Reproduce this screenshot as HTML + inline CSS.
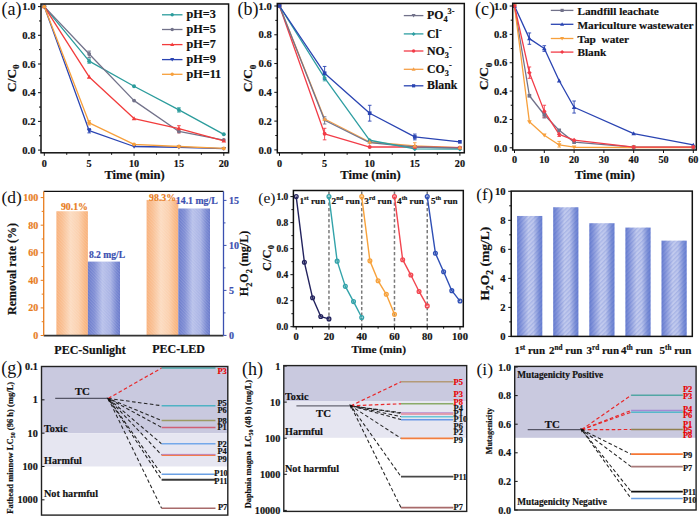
<!DOCTYPE html><html><head><meta charset="utf-8"><style>html,body{margin:0;padding:0;background:#fff;}svg{display:block;}text{font-family:"Liberation Serif",serif;}</style></head><body>
<svg width="700" height="518" viewBox="0 0 700 518">
<rect width="700" height="518" fill="#fff"/>
<defs>
<linearGradient id="gor" x1="0" x2="1" y1="0" y2="0">
<stop offset="0" stop-color="#f8b07a"/><stop offset="0.2" stop-color="#f9c094"/><stop offset="0.45" stop-color="#fcdbc0"/><stop offset="0.7" stop-color="#fbd0ae"/><stop offset="0.9" stop-color="#f9b884"/><stop offset="1" stop-color="#f8b07a"/></linearGradient>
<linearGradient id="gbl" x1="0" x2="1" y1="0" y2="0">
<stop offset="0" stop-color="#6a7acb"/><stop offset="0.2" stop-color="#7f8dd4"/><stop offset="0.45" stop-color="#b7c0ea"/><stop offset="0.7" stop-color="#a8b2e4"/><stop offset="0.9" stop-color="#7585d0"/><stop offset="1" stop-color="#6a7acb"/></linearGradient>
<linearGradient id="gbf" x1="0" x2="1" y1="0" y2="0">
<stop offset="0" stop-color="#6a7fd0"/><stop offset="0.15" stop-color="#8696da"/><stop offset="0.45" stop-color="#c3cbee"/><stop offset="0.65" stop-color="#bcc5ec"/><stop offset="0.88" stop-color="#7d90d6"/><stop offset="1" stop-color="#6a80d2"/></linearGradient>
<pattern id="hatch" width="2.2" height="2.2" patternUnits="userSpaceOnUse" patternTransform="rotate(-45)">
<rect width="1" height="2.2" fill="#ffffff" fill-opacity="0.12"/></pattern>
<pattern id="hatchf" width="3.2" height="3.2" patternUnits="userSpaceOnUse" patternTransform="rotate(45)">
<rect width="1.3" height="3.2" fill="#3050c0" fill-opacity="0.16"/></pattern>
</defs>
<polyline points="44.3,6.6 89.17,61.13 134.05,86.24 178.93,109.92 223.8,134.31" fill="none" stroke="#2b9c9c" stroke-width="1.3" stroke-linejoin="round" />
<polyline points="44.3,6.6 89.17,53.95 134.05,100.59 178.93,131.44 223.8,140.06" fill="none" stroke="#72728a" stroke-width="1.3" stroke-linejoin="round" />
<polyline points="44.3,6.6 89.17,76.91 134.05,118.53 178.93,128.57 223.8,140.77" fill="none" stroke="#f23c3c" stroke-width="1.3" stroke-linejoin="round" />
<polyline points="44.3,6.6 89.17,130.73 134.05,146.51 178.93,147.23 223.8,148.66" fill="none" stroke="#2a44b2" stroke-width="1.3" stroke-linejoin="round" />
<polyline points="44.3,6.6 89.17,122.83 134.05,144.36 178.93,146.51 223.8,148.38" fill="none" stroke="#f7a03c" stroke-width="1.3" stroke-linejoin="round" />
<line x1="89.17" y1="51.09" x2="89.17" y2="57.54" stroke="#72728a" stroke-width="0.9" />
<line x1="87.38" y1="51.09" x2="90.97" y2="51.09" stroke="#72728a" stroke-width="0.9" />
<line x1="87.38" y1="57.54" x2="90.97" y2="57.54" stroke="#72728a" stroke-width="0.9" />
<line x1="89.17" y1="58.98" x2="89.17" y2="63.28" stroke="#2b9c9c" stroke-width="0.9" />
<line x1="87.38" y1="58.98" x2="90.97" y2="58.98" stroke="#2b9c9c" stroke-width="0.9" />
<line x1="87.38" y1="63.28" x2="90.97" y2="63.28" stroke="#2b9c9c" stroke-width="0.9" />
<line x1="178.93" y1="107.77" x2="178.93" y2="112.07" stroke="#2b9c9c" stroke-width="0.9" />
<line x1="177.12" y1="107.77" x2="180.73" y2="107.77" stroke="#2b9c9c" stroke-width="0.9" />
<line x1="177.12" y1="112.07" x2="180.73" y2="112.07" stroke="#2b9c9c" stroke-width="0.9" />
<line x1="178.93" y1="125.7" x2="178.93" y2="132.88" stroke="#f23c3c" stroke-width="0.9" />
<line x1="177.12" y1="125.7" x2="180.73" y2="125.7" stroke="#f23c3c" stroke-width="0.9" />
<line x1="177.12" y1="132.88" x2="180.73" y2="132.88" stroke="#f23c3c" stroke-width="0.9" />
<line x1="89.17" y1="120.68" x2="89.17" y2="124.99" stroke="#f7a03c" stroke-width="0.9" />
<line x1="87.38" y1="120.68" x2="90.97" y2="120.68" stroke="#f7a03c" stroke-width="0.9" />
<line x1="87.38" y1="124.99" x2="90.97" y2="124.99" stroke="#f7a03c" stroke-width="0.9" />
<line x1="89.17" y1="128.57" x2="89.17" y2="132.88" stroke="#2a44b2" stroke-width="0.9" />
<line x1="87.38" y1="128.57" x2="90.97" y2="128.57" stroke="#2a44b2" stroke-width="0.9" />
<line x1="87.38" y1="132.88" x2="90.97" y2="132.88" stroke="#2a44b2" stroke-width="0.9" />
<circle cx="44.3" cy="6.6" r="1.95" fill="#2b9c9c"/>
<circle cx="89.17" cy="61.13" r="1.95" fill="#2b9c9c"/>
<circle cx="134.05" cy="86.24" r="1.95" fill="#2b9c9c"/>
<circle cx="178.93" cy="109.92" r="1.95" fill="#2b9c9c"/>
<circle cx="223.8" cy="134.31" r="1.95" fill="#2b9c9c"/>
<circle cx="44.3" cy="6.6" r="1.95" fill="#72728a"/>
<circle cx="89.17" cy="53.95" r="1.95" fill="#72728a"/>
<circle cx="134.05" cy="100.59" r="1.95" fill="#72728a"/>
<circle cx="178.93" cy="131.44" r="1.95" fill="#72728a"/>
<circle cx="223.8" cy="140.06" r="1.95" fill="#72728a"/>
<polygon points="44.3,4.3 46.6,8.32 42,8.32" fill="#f23c3c"/>
<polygon points="89.17,74.61 91.47,78.64 86.88,78.64" fill="#f23c3c"/>
<polygon points="134.05,116.23 136.35,120.25 131.75,120.25" fill="#f23c3c"/>
<polygon points="178.93,126.27 181.23,130.3 176.62,130.3" fill="#f23c3c"/>
<polygon points="223.8,138.47 226.1,142.5 221.5,142.5" fill="#f23c3c"/>
<polygon points="44.3,8.9 46.6,4.87 42,4.87" fill="#2a44b2"/>
<polygon points="89.17,133.03 91.47,129 86.88,129" fill="#2a44b2"/>
<polygon points="134.05,148.81 136.35,144.79 131.75,144.79" fill="#2a44b2"/>
<polygon points="178.93,149.53 181.23,145.5 176.62,145.5" fill="#2a44b2"/>
<polygon points="223.8,150.97 226.1,146.94 221.5,146.94" fill="#2a44b2"/>
<circle cx="44.3" cy="6.6" r="1.95" fill="#f7a03c"/>
<circle cx="89.17" cy="122.83" r="1.95" fill="#f7a03c"/>
<circle cx="134.05" cy="144.36" r="1.95" fill="#f7a03c"/>
<circle cx="178.93" cy="146.51" r="1.95" fill="#f7a03c"/>
<circle cx="223.8" cy="148.38" r="1.95" fill="#f7a03c"/>
<rect x="41" y="4" width="187.6" height="148.8" fill="none" stroke="#111" stroke-width="1.5" />
<line x1="38" y1="150.1" x2="41" y2="150.1" stroke="#111" stroke-width="1.0" />
<line x1="38" y1="121.4" x2="41" y2="121.4" stroke="#111" stroke-width="1.0" />
<line x1="38" y1="92.7" x2="41" y2="92.7" stroke="#111" stroke-width="1.0" />
<line x1="38" y1="64" x2="41" y2="64" stroke="#111" stroke-width="1.0" />
<line x1="38" y1="35.3" x2="41" y2="35.3" stroke="#111" stroke-width="1.0" />
<line x1="38" y1="6.6" x2="41" y2="6.6" stroke="#111" stroke-width="1.0" />
<line x1="39" y1="135.75" x2="41" y2="135.75" stroke="#111" stroke-width="1.0" />
<line x1="39" y1="107.05" x2="41" y2="107.05" stroke="#111" stroke-width="1.0" />
<line x1="39" y1="78.35" x2="41" y2="78.35" stroke="#111" stroke-width="1.0" />
<line x1="39" y1="49.65" x2="41" y2="49.65" stroke="#111" stroke-width="1.0" />
<line x1="39" y1="20.95" x2="41" y2="20.95" stroke="#111" stroke-width="1.0" />
<line x1="44.3" y1="152.8" x2="44.3" y2="155.8" stroke="#111" stroke-width="1.0" />
<line x1="89.17" y1="152.8" x2="89.17" y2="155.8" stroke="#111" stroke-width="1.0" />
<line x1="134.05" y1="152.8" x2="134.05" y2="155.8" stroke="#111" stroke-width="1.0" />
<line x1="178.93" y1="152.8" x2="178.93" y2="155.8" stroke="#111" stroke-width="1.0" />
<line x1="223.8" y1="152.8" x2="223.8" y2="155.8" stroke="#111" stroke-width="1.0" />
<line x1="66.74" y1="152.8" x2="66.74" y2="154.8" stroke="#111" stroke-width="1.0" />
<line x1="111.61" y1="152.8" x2="111.61" y2="154.8" stroke="#111" stroke-width="1.0" />
<line x1="156.49" y1="152.8" x2="156.49" y2="154.8" stroke="#111" stroke-width="1.0" />
<line x1="201.36" y1="152.8" x2="201.36" y2="154.8" stroke="#111" stroke-width="1.0" />
<text x="35.5" y="153.8" font-size="10.6" text-anchor="end" font-weight="bold" fill="#111" stroke="#111" stroke-width="0.18" >0.0</text>
<text x="35.5" y="125.1" font-size="10.6" text-anchor="end" font-weight="bold" fill="#111" stroke="#111" stroke-width="0.18" >0.2</text>
<text x="35.5" y="96.4" font-size="10.6" text-anchor="end" font-weight="bold" fill="#111" stroke="#111" stroke-width="0.18" >0.4</text>
<text x="35.5" y="67.7" font-size="10.6" text-anchor="end" font-weight="bold" fill="#111" stroke="#111" stroke-width="0.18" >0.6</text>
<text x="35.5" y="39" font-size="10.6" text-anchor="end" font-weight="bold" fill="#111" stroke="#111" stroke-width="0.18" >0.8</text>
<text x="35.5" y="10.3" font-size="10.6" text-anchor="end" font-weight="bold" fill="#111" stroke="#111" stroke-width="0.18" >1.0</text>
<text x="44.3" y="166.6" font-size="10.2" text-anchor="middle" font-weight="bold" fill="#111" stroke="#111" stroke-width="0.18" >0</text>
<text x="89.17" y="166.6" font-size="10.2" text-anchor="middle" font-weight="bold" fill="#111" stroke="#111" stroke-width="0.18" >5</text>
<text x="134.05" y="166.6" font-size="10.2" text-anchor="middle" font-weight="bold" fill="#111" stroke="#111" stroke-width="0.18" >10</text>
<text x="178.93" y="166.6" font-size="10.2" text-anchor="middle" font-weight="bold" fill="#111" stroke="#111" stroke-width="0.18" >15</text>
<text x="223.8" y="166.6" font-size="10.2" text-anchor="middle" font-weight="bold" fill="#111" stroke="#111" stroke-width="0.18" >20</text>
<text transform="translate(11.3,78.2) rotate(-90)" x="0" y="4.39" font-size="13.3" text-anchor="middle" font-weight="bold" fill="#111" stroke="#111" stroke-width="0.18">C/C<tspan font-size="68%" dy="3.6">0</tspan></text>
<text x="134.6" y="179.3" font-size="12.6" text-anchor="middle" font-weight="bold" fill="#111" stroke="#111" stroke-width="0.18" >Time (min)</text>
<text x="1.5" y="15" font-size="18" text-anchor="start" font-weight="normal" fill="#111" >(a)</text>
<line x1="162" y1="14.8" x2="182.5" y2="14.8" stroke="#2b9c9c" stroke-width="1.3" />
<circle cx="172.2" cy="14.8" r="1.7" fill="#2b9c9c"/>
<text x="186.5" y="18.4" font-size="12.2" text-anchor="start" font-weight="bold" fill="#111" stroke="#111" stroke-width="0.18" >pH=3</text>
<line x1="162" y1="29.5" x2="182.5" y2="29.5" stroke="#72728a" stroke-width="1.3" />
<circle cx="172.2" cy="29.5" r="1.7" fill="#72728a"/>
<text x="186.5" y="33.1" font-size="12.2" text-anchor="start" font-weight="bold" fill="#111" stroke="#111" stroke-width="0.18" >pH=5</text>
<line x1="162" y1="44.6" x2="182.5" y2="44.6" stroke="#f23c3c" stroke-width="1.3" />
<polygon points="172.2,42.6 174.2,46.1 170.2,46.1" fill="#f23c3c"/>
<text x="186.5" y="48.2" font-size="12.2" text-anchor="start" font-weight="bold" fill="#111" stroke="#111" stroke-width="0.18" >pH=7</text>
<line x1="162" y1="59.6" x2="182.5" y2="59.6" stroke="#2a44b2" stroke-width="1.3" />
<polygon points="172.2,61.6 174.2,58.1 170.2,58.1" fill="#2a44b2"/>
<text x="186.5" y="63.2" font-size="12.2" text-anchor="start" font-weight="bold" fill="#111" stroke="#111" stroke-width="0.18" >pH=9</text>
<line x1="162" y1="74.3" x2="182.5" y2="74.3" stroke="#f7a03c" stroke-width="1.3" />
<circle cx="172.2" cy="74.3" r="1.7" fill="#f7a03c"/>
<text x="186.5" y="77.9" font-size="12.2" text-anchor="start" font-weight="bold" fill="#111" stroke="#111" stroke-width="0.18" >pH=11</text>
<polyline points="279.5,6 324.6,118.96 369.7,141.99 414.8,145.87 459.9,147.6" fill="none" stroke="#f5a048" stroke-width="1.3" stroke-linejoin="round" />
<polyline points="279.5,6 324.6,133.78 369.7,147.02 414.8,147.02 459.9,147.74" fill="none" stroke="#f23c48" stroke-width="1.3" stroke-linejoin="round" />
<polyline points="279.5,6 324.6,120.26 369.7,142.71 414.8,147.02 459.9,148.17" fill="none" stroke="#72728a" stroke-width="1.3" stroke-linejoin="round" />
<polyline points="279.5,6 324.6,77.95 369.7,140.26 414.8,148.89 459.9,149.18" fill="none" stroke="#2e9ea2" stroke-width="1.3" stroke-linejoin="round" />
<polyline points="279.5,6 324.6,73.2 369.7,113.21 414.8,136.95 459.9,141.84" fill="none" stroke="#2a44b2" stroke-width="1.3" stroke-linejoin="round" />
<line x1="324.6" y1="66.44" x2="324.6" y2="79.39" stroke="#2a44b2" stroke-width="0.9" />
<line x1="322.8" y1="66.44" x2="326.4" y2="66.44" stroke="#2a44b2" stroke-width="0.9" />
<line x1="322.8" y1="79.39" x2="326.4" y2="79.39" stroke="#2a44b2" stroke-width="0.9" />
<line x1="369.7" y1="105.29" x2="369.7" y2="121.12" stroke="#2a44b2" stroke-width="0.9" />
<line x1="367.9" y1="105.29" x2="371.5" y2="105.29" stroke="#2a44b2" stroke-width="0.9" />
<line x1="367.9" y1="121.12" x2="371.5" y2="121.12" stroke="#2a44b2" stroke-width="0.9" />
<line x1="414.8" y1="134.07" x2="414.8" y2="139.83" stroke="#2a44b2" stroke-width="0.9" />
<line x1="413" y1="134.07" x2="416.6" y2="134.07" stroke="#2a44b2" stroke-width="0.9" />
<line x1="413" y1="139.83" x2="416.6" y2="139.83" stroke="#2a44b2" stroke-width="0.9" />
<line x1="324.6" y1="128.31" x2="324.6" y2="139.83" stroke="#f23c48" stroke-width="0.9" />
<line x1="322.8" y1="128.31" x2="326.4" y2="128.31" stroke="#f23c48" stroke-width="0.9" />
<line x1="322.8" y1="139.83" x2="326.4" y2="139.83" stroke="#f23c48" stroke-width="0.9" />
<line x1="324.6" y1="75.07" x2="324.6" y2="80.83" stroke="#2e9ea2" stroke-width="0.9" />
<line x1="322.8" y1="75.07" x2="326.4" y2="75.07" stroke="#2e9ea2" stroke-width="0.9" />
<line x1="322.8" y1="80.83" x2="326.4" y2="80.83" stroke="#2e9ea2" stroke-width="0.9" />
<line x1="324.6" y1="116.8" x2="324.6" y2="124" stroke="#72728a" stroke-width="0.9" />
<line x1="322.8" y1="116.8" x2="326.4" y2="116.8" stroke="#72728a" stroke-width="0.9" />
<line x1="322.8" y1="124" x2="326.4" y2="124" stroke="#72728a" stroke-width="0.9" />
<line x1="414.8" y1="142.71" x2="414.8" y2="148.46" stroke="#f5a048" stroke-width="0.9" />
<line x1="413" y1="142.71" x2="416.6" y2="142.71" stroke="#f5a048" stroke-width="0.9" />
<line x1="413" y1="148.46" x2="416.6" y2="148.46" stroke="#f5a048" stroke-width="0.9" />
<polygon points="279.5,8.3 281.8,4.28 277.2,4.28" fill="#72728a"/>
<polygon points="324.6,122.56 326.9,118.53 322.3,118.53" fill="#72728a"/>
<polygon points="369.7,145.01 372,140.98 367.4,140.98" fill="#72728a"/>
<polygon points="414.8,149.32 417.1,145.3 412.5,145.3" fill="#72728a"/>
<polygon points="459.9,150.47 462.2,146.45 457.6,146.45" fill="#72728a"/>
<polygon points="279.5,3.7 281.8,6 279.5,8.3 277.2,6" fill="#2e9ea2"/>
<polygon points="324.6,75.65 326.9,77.95 324.6,80.25 322.3,77.95" fill="#2e9ea2"/>
<polygon points="369.7,137.96 372,140.26 369.7,142.56 367.4,140.26" fill="#2e9ea2"/>
<polygon points="414.8,146.59 417.1,148.89 414.8,151.19 412.5,148.89" fill="#2e9ea2"/>
<polygon points="459.9,146.88 462.2,149.18 459.9,151.48 457.6,149.18" fill="#2e9ea2"/>
<circle cx="279.5" cy="6" r="1.95" fill="#f23c48"/>
<circle cx="324.6" cy="133.78" r="1.95" fill="#f23c48"/>
<circle cx="369.7" cy="147.02" r="1.95" fill="#f23c48"/>
<circle cx="414.8" cy="147.02" r="1.95" fill="#f23c48"/>
<circle cx="459.9" cy="147.74" r="1.95" fill="#f23c48"/>
<polygon points="279.5,3.7 281.8,7.72 277.2,7.72" fill="#f5a048"/>
<polygon points="324.6,116.66 326.9,120.69 322.3,120.69" fill="#f5a048"/>
<polygon points="369.7,139.69 372,143.71 367.4,143.71" fill="#f5a048"/>
<polygon points="414.8,143.57 417.1,147.6 412.5,147.6" fill="#f5a048"/>
<polygon points="459.9,145.3 462.2,149.32 457.6,149.32" fill="#f5a048"/>
<rect x="277.66" y="4.16" width="3.68" height="3.68" fill="#2a44b2"/>
<rect x="322.76" y="71.36" width="3.68" height="3.68" fill="#2a44b2"/>
<rect x="367.86" y="111.37" width="3.68" height="3.68" fill="#2a44b2"/>
<rect x="412.96" y="135.11" width="3.68" height="3.68" fill="#2a44b2"/>
<rect x="458.06" y="140" width="3.68" height="3.68" fill="#2a44b2"/>
<rect x="277.3" y="3.5" width="187" height="149.3" fill="none" stroke="#111" stroke-width="1.5" />
<line x1="274.3" y1="149.9" x2="277.3" y2="149.9" stroke="#111" stroke-width="1.0" />
<line x1="274.3" y1="121.12" x2="277.3" y2="121.12" stroke="#111" stroke-width="1.0" />
<line x1="274.3" y1="92.34" x2="277.3" y2="92.34" stroke="#111" stroke-width="1.0" />
<line x1="274.3" y1="63.56" x2="277.3" y2="63.56" stroke="#111" stroke-width="1.0" />
<line x1="274.3" y1="34.78" x2="277.3" y2="34.78" stroke="#111" stroke-width="1.0" />
<line x1="274.3" y1="6" x2="277.3" y2="6" stroke="#111" stroke-width="1.0" />
<line x1="275.3" y1="135.51" x2="277.3" y2="135.51" stroke="#111" stroke-width="1.0" />
<line x1="275.3" y1="106.73" x2="277.3" y2="106.73" stroke="#111" stroke-width="1.0" />
<line x1="275.3" y1="77.95" x2="277.3" y2="77.95" stroke="#111" stroke-width="1.0" />
<line x1="275.3" y1="49.17" x2="277.3" y2="49.17" stroke="#111" stroke-width="1.0" />
<line x1="275.3" y1="20.39" x2="277.3" y2="20.39" stroke="#111" stroke-width="1.0" />
<line x1="279.5" y1="152.8" x2="279.5" y2="155.8" stroke="#111" stroke-width="1.0" />
<line x1="324.6" y1="152.8" x2="324.6" y2="155.8" stroke="#111" stroke-width="1.0" />
<line x1="369.7" y1="152.8" x2="369.7" y2="155.8" stroke="#111" stroke-width="1.0" />
<line x1="414.8" y1="152.8" x2="414.8" y2="155.8" stroke="#111" stroke-width="1.0" />
<line x1="459.9" y1="152.8" x2="459.9" y2="155.8" stroke="#111" stroke-width="1.0" />
<line x1="302.05" y1="152.8" x2="302.05" y2="154.8" stroke="#111" stroke-width="1.0" />
<line x1="347.15" y1="152.8" x2="347.15" y2="154.8" stroke="#111" stroke-width="1.0" />
<line x1="392.25" y1="152.8" x2="392.25" y2="154.8" stroke="#111" stroke-width="1.0" />
<line x1="437.35" y1="152.8" x2="437.35" y2="154.8" stroke="#111" stroke-width="1.0" />
<text x="271.8" y="153.6" font-size="10.6" text-anchor="end" font-weight="bold" fill="#111" stroke="#111" stroke-width="0.18" >0.0</text>
<text x="271.8" y="124.82" font-size="10.6" text-anchor="end" font-weight="bold" fill="#111" stroke="#111" stroke-width="0.18" >0.2</text>
<text x="271.8" y="96.04" font-size="10.6" text-anchor="end" font-weight="bold" fill="#111" stroke="#111" stroke-width="0.18" >0.4</text>
<text x="271.8" y="67.26" font-size="10.6" text-anchor="end" font-weight="bold" fill="#111" stroke="#111" stroke-width="0.18" >0.6</text>
<text x="271.8" y="38.48" font-size="10.6" text-anchor="end" font-weight="bold" fill="#111" stroke="#111" stroke-width="0.18" >0.8</text>
<text x="271.8" y="9.7" font-size="10.6" text-anchor="end" font-weight="bold" fill="#111" stroke="#111" stroke-width="0.18" >1.0</text>
<text x="279.5" y="166.6" font-size="10.2" text-anchor="middle" font-weight="bold" fill="#111" stroke="#111" stroke-width="0.18" >0</text>
<text x="324.6" y="166.6" font-size="10.2" text-anchor="middle" font-weight="bold" fill="#111" stroke="#111" stroke-width="0.18" >5</text>
<text x="369.7" y="166.6" font-size="10.2" text-anchor="middle" font-weight="bold" fill="#111" stroke="#111" stroke-width="0.18" >10</text>
<text x="414.8" y="166.6" font-size="10.2" text-anchor="middle" font-weight="bold" fill="#111" stroke="#111" stroke-width="0.18" >15</text>
<text x="459.9" y="166.6" font-size="10.2" text-anchor="middle" font-weight="bold" fill="#111" stroke="#111" stroke-width="0.18" >20</text>
<text transform="translate(247.7,78.4) rotate(-90)" x="0" y="4.39" font-size="13.3" text-anchor="middle" font-weight="bold" fill="#111" stroke="#111" stroke-width="0.18">C/C<tspan font-size="68%" dy="3.6">0</tspan></text>
<text x="370.5" y="179.3" font-size="12.6" text-anchor="middle" font-weight="bold" fill="#111" stroke="#111" stroke-width="0.18" >Time (min)</text>
<text x="237.5" y="15" font-size="18" text-anchor="start" font-weight="normal" fill="#111" >(b)</text>
<line x1="403.8" y1="15.6" x2="423.4" y2="15.6" stroke="#72728a" stroke-width="1.3" />
<polygon points="413.6,17.6 415.6,14.1 411.6,14.1" fill="#72728a"/>
<text x="427.1" y="19.2" font-size="11.8" text-anchor="start" font-weight="bold" fill="#111" stroke="#111" stroke-width="0.18" >PO<tspan font-size="70%" dy="3">4</tspan><tspan font-size="70%" dy="-8">3-</tspan></text>
<line x1="403.8" y1="33.9" x2="423.4" y2="33.9" stroke="#2e9ea2" stroke-width="1.3" />
<polygon points="413.6,31.9 415.6,33.9 413.6,35.9 411.6,33.9" fill="#2e9ea2"/>
<text x="427.1" y="37.5" font-size="11.8" text-anchor="start" font-weight="bold" fill="#111" stroke="#111" stroke-width="0.18" >Cl<tspan font-size="70%" dy="-5">-</tspan></text>
<line x1="403.8" y1="51" x2="423.4" y2="51" stroke="#f23c48" stroke-width="1.3" />
<circle cx="413.6" cy="51" r="1.7" fill="#f23c48"/>
<text x="427.1" y="54.6" font-size="11.8" text-anchor="start" font-weight="bold" fill="#111" stroke="#111" stroke-width="0.18" >NO<tspan font-size="70%" dy="3">3</tspan><tspan font-size="70%" dy="-8">-</tspan></text>
<line x1="403.8" y1="69.3" x2="423.4" y2="69.3" stroke="#f5a048" stroke-width="1.3" />
<polygon points="413.6,67.3 415.6,70.8 411.6,70.8" fill="#f5a048"/>
<text x="427.1" y="72.9" font-size="11.8" text-anchor="start" font-weight="bold" fill="#111" stroke="#111" stroke-width="0.18" >CO<tspan font-size="70%" dy="3">3</tspan><tspan font-size="70%" dy="-8">-</tspan></text>
<line x1="403.8" y1="85.8" x2="423.4" y2="85.8" stroke="#2a44b2" stroke-width="1.3" />
<rect x="412" y="84.2" width="3.2" height="3.2" fill="#2a44b2"/>
<text x="427.1" y="89.4" font-size="11.8" text-anchor="start" font-weight="bold" fill="#111" stroke="#111" stroke-width="0.18" >Blank</text>
<polyline points="514.5,6 529.4,95.76 544.3,114.76 559.2,130.36 574.1,142.13 633.7,147.09 693.3,147.09" fill="none" stroke="#72728a" stroke-width="1.3" stroke-linejoin="round" />
<polyline points="514.5,6 529.4,38.61 544.3,48.54 559.2,80.73 574.1,107.25 633.7,133.62 693.3,144.96" fill="none" stroke="#2a44b2" stroke-width="1.3" stroke-linejoin="round" />
<polyline points="514.5,6 529.4,121.85 544.3,135.18 559.2,144.96 574.1,147.23 633.7,147.52 693.3,147.52" fill="none" stroke="#f7a03c" stroke-width="1.3" stroke-linejoin="round" />
<polyline points="514.5,6 529.4,72.65 544.3,111.36 559.2,134.33 574.1,140.14 633.7,147.09 693.3,147.09" fill="none" stroke="#f23c48" stroke-width="1.3" stroke-linejoin="round" />
<line x1="529.4" y1="32.94" x2="529.4" y2="44.29" stroke="#2a44b2" stroke-width="0.9" />
<line x1="527.6" y1="32.94" x2="531.2" y2="32.94" stroke="#2a44b2" stroke-width="0.9" />
<line x1="527.6" y1="44.29" x2="531.2" y2="44.29" stroke="#2a44b2" stroke-width="0.9" />
<line x1="544.3" y1="45.7" x2="544.3" y2="51.38" stroke="#2a44b2" stroke-width="0.9" />
<line x1="542.5" y1="45.7" x2="546.1" y2="45.7" stroke="#2a44b2" stroke-width="0.9" />
<line x1="542.5" y1="51.38" x2="546.1" y2="51.38" stroke="#2a44b2" stroke-width="0.9" />
<line x1="574.1" y1="101.01" x2="574.1" y2="113.06" stroke="#2a44b2" stroke-width="0.9" />
<line x1="572.3" y1="101.01" x2="575.9" y2="101.01" stroke="#2a44b2" stroke-width="0.9" />
<line x1="572.3" y1="113.06" x2="575.9" y2="113.06" stroke="#2a44b2" stroke-width="0.9" />
<line x1="529.4" y1="66.97" x2="529.4" y2="78.32" stroke="#f23c48" stroke-width="0.9" />
<line x1="527.6" y1="66.97" x2="531.2" y2="66.97" stroke="#f23c48" stroke-width="0.9" />
<line x1="527.6" y1="78.32" x2="531.2" y2="78.32" stroke="#f23c48" stroke-width="0.9" />
<line x1="544.3" y1="105.26" x2="544.3" y2="117.31" stroke="#f23c48" stroke-width="0.9" />
<line x1="542.5" y1="105.26" x2="546.1" y2="105.26" stroke="#f23c48" stroke-width="0.9" />
<line x1="542.5" y1="117.31" x2="546.1" y2="117.31" stroke="#f23c48" stroke-width="0.9" />
<line x1="559.2" y1="130.78" x2="559.2" y2="136.46" stroke="#f23c48" stroke-width="0.9" />
<line x1="557.4" y1="130.78" x2="561" y2="130.78" stroke="#f23c48" stroke-width="0.9" />
<line x1="557.4" y1="136.46" x2="561" y2="136.46" stroke="#f23c48" stroke-width="0.9" />
<line x1="544.3" y1="112.35" x2="544.3" y2="118.02" stroke="#72728a" stroke-width="0.9" />
<line x1="542.5" y1="112.35" x2="546.1" y2="112.35" stroke="#72728a" stroke-width="0.9" />
<line x1="542.5" y1="118.02" x2="546.1" y2="118.02" stroke="#72728a" stroke-width="0.9" />
<line x1="559.2" y1="141.42" x2="559.2" y2="147.09" stroke="#f7a03c" stroke-width="0.9" />
<line x1="557.4" y1="141.42" x2="561" y2="141.42" stroke="#f7a03c" stroke-width="0.9" />
<line x1="557.4" y1="147.09" x2="561" y2="147.09" stroke="#f7a03c" stroke-width="0.9" />
<rect x="512.66" y="4.16" width="3.68" height="3.68" fill="#72728a"/>
<rect x="527.56" y="93.92" width="3.68" height="3.68" fill="#72728a"/>
<rect x="542.46" y="112.92" width="3.68" height="3.68" fill="#72728a"/>
<rect x="557.36" y="128.52" width="3.68" height="3.68" fill="#72728a"/>
<rect x="572.26" y="140.29" width="3.68" height="3.68" fill="#72728a"/>
<rect x="631.86" y="145.25" width="3.68" height="3.68" fill="#72728a"/>
<rect x="691.46" y="145.25" width="3.68" height="3.68" fill="#72728a"/>
<polygon points="514.5,3.7 516.8,7.72 512.2,7.72" fill="#2a44b2"/>
<polygon points="529.4,36.31 531.7,40.34 527.1,40.34" fill="#2a44b2"/>
<polygon points="544.3,46.24 546.6,50.27 542,50.27" fill="#2a44b2"/>
<polygon points="559.2,78.43 561.5,82.45 556.9,82.45" fill="#2a44b2"/>
<polygon points="574.1,104.95 576.4,108.97 571.8,108.97" fill="#2a44b2"/>
<polygon points="633.7,131.32 636,135.34 631.4,135.34" fill="#2a44b2"/>
<polygon points="693.3,142.66 695.6,146.69 691,146.69" fill="#2a44b2"/>
<polygon points="514.5,8.3 516.8,4.28 512.2,4.28" fill="#f7a03c"/>
<polygon points="529.4,124.15 531.7,120.13 527.1,120.13" fill="#f7a03c"/>
<polygon points="544.3,137.48 546.6,133.45 542,133.45" fill="#f7a03c"/>
<polygon points="559.2,147.26 561.5,143.24 556.9,143.24" fill="#f7a03c"/>
<polygon points="574.1,149.53 576.4,145.51 571.8,145.51" fill="#f7a03c"/>
<polygon points="633.7,149.82 636,145.79 631.4,145.79" fill="#f7a03c"/>
<polygon points="693.3,149.82 695.6,145.79 691,145.79" fill="#f7a03c"/>
<polygon points="514.5,3.7 516.8,6 514.5,8.3 512.2,6" fill="#f23c48"/>
<polygon points="529.4,70.35 531.7,72.65 529.4,74.95 527.1,72.65" fill="#f23c48"/>
<polygon points="544.3,109.06 546.6,111.36 544.3,113.66 542,111.36" fill="#f23c48"/>
<polygon points="559.2,132.03 561.5,134.33 559.2,136.63 556.9,134.33" fill="#f23c48"/>
<polygon points="574.1,137.84 576.4,140.14 574.1,142.44 571.8,140.14" fill="#f23c48"/>
<polygon points="633.7,144.79 636,147.09 633.7,149.39 631.4,147.09" fill="#f23c48"/>
<polygon points="693.3,144.79 695.6,147.09 693.3,149.39 691,147.09" fill="#f23c48"/>
<rect x="512.7" y="3.3" width="183.6" height="146.7" fill="none" stroke="#111" stroke-width="1.5" />
<line x1="509.7" y1="147.8" x2="512.7" y2="147.8" stroke="#111" stroke-width="1.0" />
<line x1="509.7" y1="119.44" x2="512.7" y2="119.44" stroke="#111" stroke-width="1.0" />
<line x1="509.7" y1="91.08" x2="512.7" y2="91.08" stroke="#111" stroke-width="1.0" />
<line x1="509.7" y1="62.72" x2="512.7" y2="62.72" stroke="#111" stroke-width="1.0" />
<line x1="509.7" y1="34.36" x2="512.7" y2="34.36" stroke="#111" stroke-width="1.0" />
<line x1="509.7" y1="6" x2="512.7" y2="6" stroke="#111" stroke-width="1.0" />
<line x1="510.7" y1="133.62" x2="512.7" y2="133.62" stroke="#111" stroke-width="1.0" />
<line x1="510.7" y1="105.26" x2="512.7" y2="105.26" stroke="#111" stroke-width="1.0" />
<line x1="510.7" y1="76.9" x2="512.7" y2="76.9" stroke="#111" stroke-width="1.0" />
<line x1="510.7" y1="48.54" x2="512.7" y2="48.54" stroke="#111" stroke-width="1.0" />
<line x1="510.7" y1="20.18" x2="512.7" y2="20.18" stroke="#111" stroke-width="1.0" />
<line x1="514.5" y1="150" x2="514.5" y2="153" stroke="#111" stroke-width="1.0" />
<line x1="544.3" y1="150" x2="544.3" y2="153" stroke="#111" stroke-width="1.0" />
<line x1="574.1" y1="150" x2="574.1" y2="153" stroke="#111" stroke-width="1.0" />
<line x1="603.9" y1="150" x2="603.9" y2="153" stroke="#111" stroke-width="1.0" />
<line x1="633.7" y1="150" x2="633.7" y2="153" stroke="#111" stroke-width="1.0" />
<line x1="663.5" y1="150" x2="663.5" y2="153" stroke="#111" stroke-width="1.0" />
<line x1="693.3" y1="150" x2="693.3" y2="153" stroke="#111" stroke-width="1.0" />
<text x="507.2" y="151.5" font-size="10.6" text-anchor="end" font-weight="bold" fill="#111" stroke="#111" stroke-width="0.18" >0.0</text>
<text x="507.2" y="123.14" font-size="10.6" text-anchor="end" font-weight="bold" fill="#111" stroke="#111" stroke-width="0.18" >0.2</text>
<text x="507.2" y="94.78" font-size="10.6" text-anchor="end" font-weight="bold" fill="#111" stroke="#111" stroke-width="0.18" >0.4</text>
<text x="507.2" y="66.42" font-size="10.6" text-anchor="end" font-weight="bold" fill="#111" stroke="#111" stroke-width="0.18" >0.6</text>
<text x="507.2" y="38.06" font-size="10.6" text-anchor="end" font-weight="bold" fill="#111" stroke="#111" stroke-width="0.18" >0.8</text>
<text x="507.2" y="9.7" font-size="10.6" text-anchor="end" font-weight="bold" fill="#111" stroke="#111" stroke-width="0.18" >1.0</text>
<text x="514.5" y="163.4" font-size="10.2" text-anchor="middle" font-weight="bold" fill="#111" stroke="#111" stroke-width="0.18" >0</text>
<text x="544.3" y="163.4" font-size="10.2" text-anchor="middle" font-weight="bold" fill="#111" stroke="#111" stroke-width="0.18" >10</text>
<text x="574.1" y="163.4" font-size="10.2" text-anchor="middle" font-weight="bold" fill="#111" stroke="#111" stroke-width="0.18" >20</text>
<text x="603.9" y="163.4" font-size="10.2" text-anchor="middle" font-weight="bold" fill="#111" stroke="#111" stroke-width="0.18" >30</text>
<text x="633.7" y="163.4" font-size="10.2" text-anchor="middle" font-weight="bold" fill="#111" stroke="#111" stroke-width="0.18" >40</text>
<text x="663.5" y="163.4" font-size="10.2" text-anchor="middle" font-weight="bold" fill="#111" stroke="#111" stroke-width="0.18" >50</text>
<text x="693.3" y="163.4" font-size="10.2" text-anchor="middle" font-weight="bold" fill="#111" stroke="#111" stroke-width="0.18" >60</text>
<text transform="translate(484,76.4) rotate(-90)" x="0" y="4.39" font-size="13.3" text-anchor="middle" font-weight="bold" fill="#111" stroke="#111" stroke-width="0.18">C/C<tspan font-size="68%" dy="3.6">0</tspan></text>
<text x="604.8" y="179" font-size="12.6" text-anchor="middle" font-weight="bold" fill="#111" stroke="#111" stroke-width="0.18" >Time (min)</text>
<text x="475" y="15" font-size="18" text-anchor="start" font-weight="normal" fill="#111" >(c)</text>
<line x1="550.8" y1="10.4" x2="573.4" y2="10.4" stroke="#72728a" stroke-width="1.3" />
<rect x="560.5" y="8.8" width="3.2" height="3.2" fill="#72728a"/>
<text x="577.4" y="14.7" font-size="11.3" text-anchor="start" font-weight="bold" fill="#111" stroke="#111" stroke-width="0.18" >Landfill leachate</text>
<line x1="550.8" y1="24.3" x2="573.4" y2="24.3" stroke="#2a44b2" stroke-width="1.3" />
<polygon points="562.1,22.3 564.1,25.8 560.1,25.8" fill="#2a44b2"/>
<text x="577.4" y="28.6" font-size="11.3" text-anchor="start" font-weight="bold" fill="#111" stroke="#111" stroke-width="0.18" >Mariculture wastewater</text>
<line x1="550.8" y1="38.5" x2="573.4" y2="38.5" stroke="#f7a03c" stroke-width="1.3" />
<polygon points="562.1,40.5 564.1,37 560.1,37" fill="#f7a03c"/>
<text x="577.4" y="42.8" font-size="11.3" text-anchor="start" font-weight="bold" fill="#111" stroke="#111" stroke-width="0.18" >Tap&#160; water</text>
<line x1="550.8" y1="52.1" x2="573.4" y2="52.1" stroke="#f23c48" stroke-width="1.3" />
<polygon points="562.1,50.1 564.1,52.1 562.1,54.1 560.1,52.1" fill="#f23c48"/>
<text x="577.4" y="56.4" font-size="11.3" text-anchor="start" font-weight="bold" fill="#111" stroke="#111" stroke-width="0.18" >Blank</text>
<rect x="56.4" y="211.25" width="31.5" height="124.35" fill="url(#gor)" stroke="none" stroke-width="0" />
<rect x="56.4" y="211.25" width="31.5" height="124.35" fill="url(#hatch)" stroke="none" stroke-width="0" />
<rect x="87.9" y="261.6" width="32.1" height="74" fill="url(#gbl)" stroke="none" stroke-width="0" />
<rect x="87.9" y="261.6" width="32.1" height="74" fill="url(#hatch)" stroke="none" stroke-width="0" />
<rect x="146.6" y="199.94" width="31.7" height="135.66" fill="url(#gor)" stroke="none" stroke-width="0" />
<rect x="146.6" y="199.94" width="31.7" height="135.66" fill="url(#hatch)" stroke="none" stroke-width="0" />
<rect x="178.3" y="208.5" width="31.7" height="127.1" fill="url(#gbl)" stroke="none" stroke-width="0" />
<rect x="178.3" y="208.5" width="31.7" height="127.1" fill="url(#hatch)" stroke="none" stroke-width="0" />
<line x1="43.7" y1="191.4" x2="223.5" y2="191.4" stroke="#111" stroke-width="1.3" />
<line x1="43.7" y1="335.6" x2="223.5" y2="335.6" stroke="#333" stroke-width="1.6" />
<line x1="43.7" y1="191.4" x2="43.7" y2="335.6" stroke="#e87d1e" stroke-width="1.3" />
<line x1="223.5" y1="191.4" x2="223.5" y2="335.6" stroke="#3a4fb0" stroke-width="1.3" />
<line x1="40.7" y1="335.5" x2="43.7" y2="335.5" stroke="#e87d1e" stroke-width="1.0" />
<line x1="40.7" y1="307.92" x2="43.7" y2="307.92" stroke="#e87d1e" stroke-width="1.0" />
<line x1="40.7" y1="280.34" x2="43.7" y2="280.34" stroke="#e87d1e" stroke-width="1.0" />
<line x1="40.7" y1="252.76" x2="43.7" y2="252.76" stroke="#e87d1e" stroke-width="1.0" />
<line x1="40.7" y1="225.18" x2="43.7" y2="225.18" stroke="#e87d1e" stroke-width="1.0" />
<line x1="40.7" y1="197.6" x2="43.7" y2="197.6" stroke="#e87d1e" stroke-width="1.0" />
<line x1="41.7" y1="321.71" x2="43.7" y2="321.71" stroke="#e87d1e" stroke-width="1.0" />
<line x1="41.7" y1="294.13" x2="43.7" y2="294.13" stroke="#e87d1e" stroke-width="1.0" />
<line x1="41.7" y1="266.55" x2="43.7" y2="266.55" stroke="#e87d1e" stroke-width="1.0" />
<line x1="41.7" y1="238.97" x2="43.7" y2="238.97" stroke="#e87d1e" stroke-width="1.0" />
<line x1="41.7" y1="211.39" x2="43.7" y2="211.39" stroke="#e87d1e" stroke-width="1.0" />
<line x1="223.5" y1="335.4" x2="226.5" y2="335.4" stroke="#3a4fb0" stroke-width="1.0" />
<line x1="223.5" y1="290.4" x2="226.5" y2="290.4" stroke="#3a4fb0" stroke-width="1.0" />
<line x1="223.5" y1="245.4" x2="226.5" y2="245.4" stroke="#3a4fb0" stroke-width="1.0" />
<line x1="223.5" y1="200.4" x2="226.5" y2="200.4" stroke="#3a4fb0" stroke-width="1.0" />
<line x1="223.5" y1="312.9" x2="225.5" y2="312.9" stroke="#3a4fb0" stroke-width="1.0" />
<line x1="223.5" y1="267.9" x2="225.5" y2="267.9" stroke="#3a4fb0" stroke-width="1.0" />
<line x1="223.5" y1="222.9" x2="225.5" y2="222.9" stroke="#3a4fb0" stroke-width="1.0" />
<text x="38.2" y="339" font-size="10" text-anchor="end" font-weight="bold" fill="#e87d1e" stroke="#e87d1e" stroke-width="0.18" >0</text>
<text x="38.2" y="311.42" font-size="10" text-anchor="end" font-weight="bold" fill="#e87d1e" stroke="#e87d1e" stroke-width="0.18" >20</text>
<text x="38.2" y="283.84" font-size="10" text-anchor="end" font-weight="bold" fill="#e87d1e" stroke="#e87d1e" stroke-width="0.18" >40</text>
<text x="38.2" y="256.26" font-size="10" text-anchor="end" font-weight="bold" fill="#e87d1e" stroke="#e87d1e" stroke-width="0.18" >60</text>
<text x="38.2" y="228.68" font-size="10" text-anchor="end" font-weight="bold" fill="#e87d1e" stroke="#e87d1e" stroke-width="0.18" >80</text>
<text x="38.2" y="201.1" font-size="10" text-anchor="end" font-weight="bold" fill="#e87d1e" stroke="#e87d1e" stroke-width="0.18" >100</text>
<text x="228.9" y="338.9" font-size="10" text-anchor="start" font-weight="bold" fill="#3a4fb0" stroke="#3a4fb0" stroke-width="0.18" >0</text>
<text x="228.9" y="293.9" font-size="10" text-anchor="start" font-weight="bold" fill="#3a4fb0" stroke="#3a4fb0" stroke-width="0.18" >5</text>
<text x="228.9" y="248.9" font-size="10" text-anchor="start" font-weight="bold" fill="#3a4fb0" stroke="#3a4fb0" stroke-width="0.18" >10</text>
<text x="228.9" y="203.9" font-size="10" text-anchor="start" font-weight="bold" fill="#3a4fb0" stroke="#3a4fb0" stroke-width="0.18" >15</text>
<text x="74.4" y="210.2" font-size="9.8" text-anchor="middle" font-weight="bold" fill="#e87d1e" stroke="#e87d1e" stroke-width="0.18" >90.1%</text>
<text x="107" y="258.1" font-size="9.6" text-anchor="middle" font-weight="bold" fill="#3a4fb0" stroke="#3a4fb0" stroke-width="0.18" >8.2 mg/L</text>
<text x="162.6" y="200.7" font-size="9.8" text-anchor="middle" font-weight="bold" fill="#e87d1e" stroke="#e87d1e" stroke-width="0.18" >98.3%</text>
<text x="196.8" y="204.2" font-size="9.8" text-anchor="middle" font-weight="bold" fill="#3a4fb0" stroke="#3a4fb0" stroke-width="0.18" >14.1 mg/L</text>
<text x="90" y="353.6" font-size="12" text-anchor="middle" font-weight="bold" fill="#111" stroke="#111" stroke-width="0.18" >PEC-Sunlight</text>
<text x="178.5" y="353.3" font-size="12" text-anchor="middle" font-weight="bold" fill="#111" stroke="#111" stroke-width="0.18" >PEC-LED</text>
<text transform="translate(11.8,269) rotate(-90)" x="0" y="3.96" font-size="12" text-anchor="middle" font-weight="bold" fill="#111" stroke="#111" stroke-width="0.18">Removal rate (%)</text>
<text transform="translate(244.3,263.5) rotate(-90)" x="0" y="3.96" font-size="12" text-anchor="middle" font-weight="bold" fill="#111" stroke="#111" stroke-width="0.18">H<tspan font-size="70%" dy="3.4">2</tspan><tspan dy="-3.4">O</tspan><tspan font-size="70%" dy="3.4">2</tspan><tspan dy="-3.4"> (mg/L)</tspan></text>
<text x="1.5" y="203" font-size="17.5" text-anchor="start" font-weight="normal" fill="#111" >(d)</text>
<line x1="328.96" y1="191.5" x2="328.96" y2="326.7" stroke="#7a7a7a" stroke-width="1.5" stroke-dasharray="3.2,2.3"/>
<line x1="361.72" y1="191.5" x2="361.72" y2="326.7" stroke="#7a7a7a" stroke-width="1.5" stroke-dasharray="3.2,2.3"/>
<line x1="394.48" y1="191.5" x2="394.48" y2="326.7" stroke="#7a7a7a" stroke-width="1.5" stroke-dasharray="3.2,2.3"/>
<line x1="427.24" y1="191.5" x2="427.24" y2="326.7" stroke="#7a7a7a" stroke-width="1.5" stroke-dasharray="3.2,2.3"/>
<polyline points="296.2,196.6 304.39,262.3 312.58,297.82 320.77,316.55 328.96,318.89" fill="none" stroke="#23235e" stroke-width="1.4" stroke-linejoin="round" />
<circle cx="296.2" cy="196.6" r="1.9" fill="#23235e" fill-opacity="0.3" stroke="#23235e" stroke-width="1.3"/>
<circle cx="304.39" cy="262.3" r="1.9" fill="#23235e" fill-opacity="0.3" stroke="#23235e" stroke-width="1.3"/>
<circle cx="312.58" cy="297.82" r="1.9" fill="#23235e" fill-opacity="0.3" stroke="#23235e" stroke-width="1.3"/>
<circle cx="320.77" cy="316.55" r="1.9" fill="#23235e" fill-opacity="0.3" stroke="#23235e" stroke-width="1.3"/>
<circle cx="328.96" cy="318.89" r="1.9" fill="#23235e" fill-opacity="0.3" stroke="#23235e" stroke-width="1.3"/>
<polyline points="328.96,196.6 337.15,261.13 345.34,286.37 353.53,301.59 361.72,317.46" fill="none" stroke="#33a3aa" stroke-width="1.4" stroke-linejoin="round" />
<circle cx="328.96" cy="196.6" r="1.9" fill="#33a3aa" fill-opacity="0.3" stroke="#33a3aa" stroke-width="1.3"/>
<circle cx="337.15" cy="261.13" r="1.9" fill="#33a3aa" fill-opacity="0.3" stroke="#33a3aa" stroke-width="1.3"/>
<circle cx="345.34" cy="286.37" r="1.9" fill="#33a3aa" fill-opacity="0.3" stroke="#33a3aa" stroke-width="1.3"/>
<circle cx="353.53" cy="301.59" r="1.9" fill="#33a3aa" fill-opacity="0.3" stroke="#33a3aa" stroke-width="1.3"/>
<circle cx="361.72" cy="317.46" r="1.9" fill="#33a3aa" fill-opacity="0.3" stroke="#33a3aa" stroke-width="1.3"/>
<polyline points="361.72,196.6 369.91,260.87 378.1,280.77 386.29,294.31 394.48,314.34" fill="none" stroke="#f7a23c" stroke-width="1.4" stroke-linejoin="round" />
<circle cx="361.72" cy="196.6" r="1.9" fill="#f7a23c" fill-opacity="0.3" stroke="#f7a23c" stroke-width="1.3"/>
<circle cx="369.91" cy="260.87" r="1.9" fill="#f7a23c" fill-opacity="0.3" stroke="#f7a23c" stroke-width="1.3"/>
<circle cx="378.1" cy="280.77" r="1.9" fill="#f7a23c" fill-opacity="0.3" stroke="#f7a23c" stroke-width="1.3"/>
<circle cx="386.29" cy="294.31" r="1.9" fill="#f7a23c" fill-opacity="0.3" stroke="#f7a23c" stroke-width="1.3"/>
<circle cx="394.48" cy="314.34" r="1.9" fill="#f7a23c" fill-opacity="0.3" stroke="#f7a23c" stroke-width="1.3"/>
<polyline points="394.48,196.6 402.67,259.7 410.86,275.05 419.05,291.44 427.24,305.88" fill="none" stroke="#f24650" stroke-width="1.4" stroke-linejoin="round" />
<circle cx="394.48" cy="196.6" r="1.9" fill="#f24650" fill-opacity="0.3" stroke="#f24650" stroke-width="1.3"/>
<circle cx="402.67" cy="259.7" r="1.9" fill="#f24650" fill-opacity="0.3" stroke="#f24650" stroke-width="1.3"/>
<circle cx="410.86" cy="275.05" r="1.9" fill="#f24650" fill-opacity="0.3" stroke="#f24650" stroke-width="1.3"/>
<circle cx="419.05" cy="291.44" r="1.9" fill="#f24650" fill-opacity="0.3" stroke="#f24650" stroke-width="1.3"/>
<circle cx="427.24" cy="305.88" r="1.9" fill="#f24650" fill-opacity="0.3" stroke="#f24650" stroke-width="1.3"/>
<polyline points="427.24,196.6 435.43,253.32 443.62,271.8 451.81,290.66 460,301.07" fill="none" stroke="#2f4fb5" stroke-width="1.4" stroke-linejoin="round" />
<circle cx="427.24" cy="196.6" r="1.9" fill="#2f4fb5" fill-opacity="0.3" stroke="#2f4fb5" stroke-width="1.3"/>
<circle cx="435.43" cy="253.32" r="1.9" fill="#2f4fb5" fill-opacity="0.3" stroke="#2f4fb5" stroke-width="1.3"/>
<circle cx="443.62" cy="271.8" r="1.9" fill="#2f4fb5" fill-opacity="0.3" stroke="#2f4fb5" stroke-width="1.3"/>
<circle cx="451.81" cy="290.66" r="1.9" fill="#2f4fb5" fill-opacity="0.3" stroke="#2f4fb5" stroke-width="1.3"/>
<circle cx="460" cy="301.07" r="1.9" fill="#2f4fb5" fill-opacity="0.3" stroke="#2f4fb5" stroke-width="1.3"/>
<rect x="293.4" y="190.5" width="169.9" height="136.2" fill="none" stroke="#111" stroke-width="1.5" />
<line x1="290.4" y1="326.7" x2="293.4" y2="326.7" stroke="#111" stroke-width="1.0" />
<line x1="290.4" y1="300.68" x2="293.4" y2="300.68" stroke="#111" stroke-width="1.0" />
<line x1="290.4" y1="274.66" x2="293.4" y2="274.66" stroke="#111" stroke-width="1.0" />
<line x1="290.4" y1="248.64" x2="293.4" y2="248.64" stroke="#111" stroke-width="1.0" />
<line x1="290.4" y1="222.62" x2="293.4" y2="222.62" stroke="#111" stroke-width="1.0" />
<line x1="290.4" y1="196.6" x2="293.4" y2="196.6" stroke="#111" stroke-width="1.0" />
<line x1="291.4" y1="313.69" x2="293.4" y2="313.69" stroke="#111" stroke-width="1.0" />
<line x1="291.4" y1="287.67" x2="293.4" y2="287.67" stroke="#111" stroke-width="1.0" />
<line x1="291.4" y1="261.65" x2="293.4" y2="261.65" stroke="#111" stroke-width="1.0" />
<line x1="291.4" y1="235.63" x2="293.4" y2="235.63" stroke="#111" stroke-width="1.0" />
<line x1="291.4" y1="209.61" x2="293.4" y2="209.61" stroke="#111" stroke-width="1.0" />
<line x1="296.2" y1="326.7" x2="296.2" y2="329.7" stroke="#111" stroke-width="1.0" />
<line x1="328.96" y1="326.7" x2="328.96" y2="329.7" stroke="#111" stroke-width="1.0" />
<line x1="361.72" y1="326.7" x2="361.72" y2="329.7" stroke="#111" stroke-width="1.0" />
<line x1="394.48" y1="326.7" x2="394.48" y2="329.7" stroke="#111" stroke-width="1.0" />
<line x1="427.24" y1="326.7" x2="427.24" y2="329.7" stroke="#111" stroke-width="1.0" />
<line x1="460" y1="326.7" x2="460" y2="329.7" stroke="#111" stroke-width="1.0" />
<line x1="312.58" y1="326.7" x2="312.58" y2="328.7" stroke="#111" stroke-width="1.0" />
<line x1="345.34" y1="326.7" x2="345.34" y2="328.7" stroke="#111" stroke-width="1.0" />
<line x1="378.1" y1="326.7" x2="378.1" y2="328.7" stroke="#111" stroke-width="1.0" />
<line x1="410.86" y1="326.7" x2="410.86" y2="328.7" stroke="#111" stroke-width="1.0" />
<line x1="443.62" y1="326.7" x2="443.62" y2="328.7" stroke="#111" stroke-width="1.0" />
<text x="288.3" y="330" font-size="9.4" text-anchor="end" font-weight="bold" fill="#111" stroke="#111" stroke-width="0.18" >0.0</text>
<text x="288.3" y="303.98" font-size="9.4" text-anchor="end" font-weight="bold" fill="#111" stroke="#111" stroke-width="0.18" >0.2</text>
<text x="288.3" y="277.96" font-size="9.4" text-anchor="end" font-weight="bold" fill="#111" stroke="#111" stroke-width="0.18" >0.4</text>
<text x="288.3" y="251.94" font-size="9.4" text-anchor="end" font-weight="bold" fill="#111" stroke="#111" stroke-width="0.18" >0.6</text>
<text x="288.3" y="225.92" font-size="9.4" text-anchor="end" font-weight="bold" fill="#111" stroke="#111" stroke-width="0.18" >0.8</text>
<text x="288.3" y="199.9" font-size="9.4" text-anchor="end" font-weight="bold" fill="#111" stroke="#111" stroke-width="0.18" >1.0</text>
<text x="296.2" y="340.3" font-size="10.6" text-anchor="middle" font-weight="bold" fill="#111" stroke="#111" stroke-width="0.18" >0</text>
<text x="328.96" y="340.3" font-size="10.6" text-anchor="middle" font-weight="bold" fill="#111" stroke="#111" stroke-width="0.18" >20</text>
<text x="361.72" y="340.3" font-size="10.6" text-anchor="middle" font-weight="bold" fill="#111" stroke="#111" stroke-width="0.18" >40</text>
<text x="394.48" y="340.3" font-size="10.6" text-anchor="middle" font-weight="bold" fill="#111" stroke="#111" stroke-width="0.18" >60</text>
<text x="427.24" y="340.3" font-size="10.6" text-anchor="middle" font-weight="bold" fill="#111" stroke="#111" stroke-width="0.18" >80</text>
<text x="460" y="340.3" font-size="10.6" text-anchor="middle" font-weight="bold" fill="#111" stroke="#111" stroke-width="0.18" >100</text>
<text transform="translate(266.5,258) rotate(-90)" x="0" y="4.12" font-size="12.5" text-anchor="middle" font-weight="bold" fill="#111" stroke="#111" stroke-width="0.18">C/C<tspan font-size="68%" dy="3.6">0</tspan></text>
<text x="378.7" y="353" font-size="11.4" text-anchor="middle" font-weight="bold" fill="#111" stroke="#111" stroke-width="0.18" >Time (min)</text>
<text x="258.3" y="202.5" font-size="15.5" text-anchor="start" font-weight="normal" fill="#111" >(e)</text>
<text x="299.5" y="203.8" font-size="9.2" text-anchor="start" font-weight="bold" fill="#111" stroke="#111" stroke-width="0.18" >1<tspan font-size="6.3" dy="-3.5">st</tspan><tspan dy="3.5"> run</tspan></text>
<text x="331.6" y="203.8" font-size="9.2" text-anchor="start" font-weight="bold" fill="#111" stroke="#111" stroke-width="0.18" >2<tspan font-size="6.3" dy="-3.5">nd</tspan><tspan dy="3.5"> run</tspan></text>
<text x="364.3" y="203.8" font-size="9.2" text-anchor="start" font-weight="bold" fill="#111" stroke="#111" stroke-width="0.18" >3<tspan font-size="6.3" dy="-3.5">rd</tspan><tspan dy="3.5"> run</tspan></text>
<text x="397.1" y="203.8" font-size="9.2" text-anchor="start" font-weight="bold" fill="#111" stroke="#111" stroke-width="0.18" >4<tspan font-size="6.3" dy="-3.5">th</tspan><tspan dy="3.5"> run</tspan></text>
<text x="430.9" y="203.8" font-size="9.2" text-anchor="start" font-weight="bold" fill="#111" stroke="#111" stroke-width="0.18" >5<tspan font-size="6.3" dy="-3.5">th</tspan><tspan dy="3.5"> run</tspan></text>
<rect x="517.1" y="215.97" width="25.2" height="120.43" fill="url(#gbf)" stroke="none" stroke-width="0" />
<rect x="517.1" y="215.97" width="25.2" height="120.43" fill="url(#hatchf)" stroke="none" stroke-width="0" />
<rect x="553.2" y="207.26" width="25.2" height="129.14" fill="url(#gbf)" stroke="none" stroke-width="0" />
<rect x="553.2" y="207.26" width="25.2" height="129.14" fill="url(#hatchf)" stroke="none" stroke-width="0" />
<rect x="589.3" y="223.22" width="25.2" height="113.18" fill="url(#gbf)" stroke="none" stroke-width="0" />
<rect x="589.3" y="223.22" width="25.2" height="113.18" fill="url(#hatchf)" stroke="none" stroke-width="0" />
<rect x="625.4" y="227.57" width="25.2" height="108.82" fill="url(#gbf)" stroke="none" stroke-width="0" />
<rect x="625.4" y="227.57" width="25.2" height="108.82" fill="url(#hatchf)" stroke="none" stroke-width="0" />
<rect x="661.5" y="240.63" width="25.2" height="95.77" fill="url(#gbf)" stroke="none" stroke-width="0" />
<rect x="661.5" y="240.63" width="25.2" height="95.77" fill="url(#hatchf)" stroke="none" stroke-width="0" />
<rect x="511.2" y="191.1" width="181.1" height="145.3" fill="none" stroke="#111" stroke-width="1.5" />
<line x1="508.2" y1="336.4" x2="511.2" y2="336.4" stroke="#111" stroke-width="1.0" />
<line x1="508.2" y1="307.38" x2="511.2" y2="307.38" stroke="#111" stroke-width="1.0" />
<line x1="508.2" y1="278.36" x2="511.2" y2="278.36" stroke="#111" stroke-width="1.0" />
<line x1="508.2" y1="249.34" x2="511.2" y2="249.34" stroke="#111" stroke-width="1.0" />
<line x1="508.2" y1="220.32" x2="511.2" y2="220.32" stroke="#111" stroke-width="1.0" />
<line x1="508.2" y1="191.3" x2="511.2" y2="191.3" stroke="#111" stroke-width="1.0" />
<line x1="509.2" y1="321.89" x2="511.2" y2="321.89" stroke="#111" stroke-width="1.0" />
<line x1="509.2" y1="292.87" x2="511.2" y2="292.87" stroke="#111" stroke-width="1.0" />
<line x1="509.2" y1="263.85" x2="511.2" y2="263.85" stroke="#111" stroke-width="1.0" />
<line x1="509.2" y1="234.83" x2="511.2" y2="234.83" stroke="#111" stroke-width="1.0" />
<line x1="509.2" y1="205.81" x2="511.2" y2="205.81" stroke="#111" stroke-width="1.0" />
<text x="505.5" y="340.1" font-size="10.6" text-anchor="end" font-weight="bold" fill="#111" stroke="#111" stroke-width="0.18" >0</text>
<text x="505.5" y="311.08" font-size="10.6" text-anchor="end" font-weight="bold" fill="#111" stroke="#111" stroke-width="0.18" >2</text>
<text x="505.5" y="282.06" font-size="10.6" text-anchor="end" font-weight="bold" fill="#111" stroke="#111" stroke-width="0.18" >4</text>
<text x="505.5" y="253.04" font-size="10.6" text-anchor="end" font-weight="bold" fill="#111" stroke="#111" stroke-width="0.18" >6</text>
<text x="505.5" y="224.02" font-size="10.6" text-anchor="end" font-weight="bold" fill="#111" stroke="#111" stroke-width="0.18" >8</text>
<text x="505.5" y="195" font-size="10.6" text-anchor="end" font-weight="bold" fill="#111" stroke="#111" stroke-width="0.18" >10</text>
<text x="514.5" y="353.5" font-size="11" text-anchor="start" font-weight="bold" fill="#111" stroke="#111" stroke-width="0.18" >1<tspan font-size="7.2" dy="-4">st</tspan><tspan dy="4"> run</tspan></text>
<text x="549.1" y="353.5" font-size="11" text-anchor="start" font-weight="bold" fill="#111" stroke="#111" stroke-width="0.18" >2<tspan font-size="7.2" dy="-4">nd</tspan><tspan dy="4"> run</tspan></text>
<text x="586.5" y="353.5" font-size="11" text-anchor="start" font-weight="bold" fill="#111" stroke="#111" stroke-width="0.18" >3<tspan font-size="7.2" dy="-4">rd</tspan><tspan dy="4"> run</tspan></text>
<text x="620.9" y="353.5" font-size="11" text-anchor="start" font-weight="bold" fill="#111" stroke="#111" stroke-width="0.18" >4<tspan font-size="7.2" dy="-4">th</tspan><tspan dy="4"> run</tspan></text>
<text x="659.5" y="353.5" font-size="11" text-anchor="start" font-weight="bold" fill="#111" stroke="#111" stroke-width="0.18" >5<tspan font-size="7.2" dy="-4">th</tspan><tspan dy="4"> run</tspan></text>
<text transform="translate(485,263.6) rotate(-90)" x="0" y="4.46" font-size="13.5" text-anchor="middle" font-weight="bold" fill="#111" stroke="#111" stroke-width="0.18">H<tspan font-size="70%" dy="3.4">2</tspan><tspan dy="-3.4">O</tspan><tspan font-size="70%" dy="3.4">2</tspan><tspan dy="-3.4"> (mg/L)</tspan></text>
<text x="476.3" y="200" font-size="17" text-anchor="start" font-weight="normal" fill="#111" >(f)</text>
<rect x="41.5" y="366.5" width="186.3" height="66.66" fill="#c9c9df" stroke="none" stroke-width="0" />
<rect x="41.5" y="433.16" width="186.3" height="33.33" fill="#e6e6f1" stroke="none" stroke-width="0" />
<line x1="41.5" y1="366.5" x2="44.5" y2="366.5" stroke="#111" stroke-width="1.0" />
<line x1="41.5" y1="399.83" x2="44.5" y2="399.83" stroke="#111" stroke-width="1.0" />
<line x1="41.5" y1="433.16" x2="44.5" y2="433.16" stroke="#111" stroke-width="1.0" />
<line x1="41.5" y1="466.49" x2="44.5" y2="466.49" stroke="#111" stroke-width="1.0" />
<line x1="41.5" y1="499.82" x2="44.5" y2="499.82" stroke="#111" stroke-width="1.0" />
<text x="37.8" y="370.1" font-size="10.2" text-anchor="end" font-weight="bold" fill="#111" stroke="#111" stroke-width="0.18" >0.1</text>
<text x="37.8" y="403.43" font-size="10.2" text-anchor="end" font-weight="bold" fill="#111" stroke="#111" stroke-width="0.18" >1</text>
<text x="37.8" y="436.76" font-size="10.2" text-anchor="end" font-weight="bold" fill="#111" stroke="#111" stroke-width="0.18" >10</text>
<text x="37.8" y="470.09" font-size="10.2" text-anchor="end" font-weight="bold" fill="#111" stroke="#111" stroke-width="0.18" >100</text>
<text x="37.8" y="503.42" font-size="10.2" text-anchor="end" font-weight="bold" fill="#111" stroke="#111" stroke-width="0.18" >1000</text>
<text x="44" y="432.2" font-size="10.2" text-anchor="start" font-weight="bold" fill="#111" stroke="#111" stroke-width="0.18" >Toxic</text>
<text x="44" y="463.9" font-size="10.2" text-anchor="start" font-weight="bold" fill="#111" stroke="#111" stroke-width="0.18" >Harmful</text>
<text x="44" y="497" font-size="10.2" text-anchor="start" font-weight="bold" fill="#111" stroke="#111" stroke-width="0.18" >Not harmful</text>
<line x1="55.2" y1="398.4" x2="108.2" y2="398.4" stroke="#555566" stroke-width="1.4" />
<text x="82.4" y="394.7" font-size="10.8" text-anchor="middle" font-weight="bold" fill="#111" stroke="#111" stroke-width="0.18" >TC</text>
<line x1="108.2" y1="398.4" x2="161.6" y2="405.7" stroke="#222" stroke-width="1.05" stroke-dasharray="3.6,2.4" stroke-dashoffset="0.0"/>
<line x1="108.2" y1="398.4" x2="161.6" y2="420.5" stroke="#222" stroke-width="1.05" stroke-dasharray="3.6,2.4" stroke-dashoffset="1.7"/>
<line x1="108.2" y1="398.4" x2="161.6" y2="427.4" stroke="#222" stroke-width="1.05" stroke-dasharray="3.6,2.4" stroke-dashoffset="3.4"/>
<line x1="108.2" y1="398.4" x2="161.6" y2="443.8" stroke="#222" stroke-width="1.05" stroke-dasharray="3.6,2.4" stroke-dashoffset="5.1"/>
<line x1="108.2" y1="398.4" x2="161.6" y2="455" stroke="#222" stroke-width="1.05" stroke-dasharray="3.6,2.4" stroke-dashoffset="0.8"/>
<line x1="108.2" y1="398.4" x2="161.6" y2="474.2" stroke="#222" stroke-width="1.05" stroke-dasharray="3.6,2.4" stroke-dashoffset="2.5"/>
<line x1="108.2" y1="398.4" x2="161.6" y2="479.8" stroke="#222" stroke-width="1.05" stroke-dasharray="3.6,2.4" stroke-dashoffset="4.2"/>
<line x1="108.2" y1="398.4" x2="161.6" y2="508.2" stroke="#222" stroke-width="1.05" stroke-dasharray="3.6,2.4" stroke-dashoffset="5.9"/>
<line x1="108.2" y1="398.4" x2="161.6" y2="368" stroke="#e8282a" stroke-width="1.2" stroke-dasharray="3.6,2.4"/>
<polygon points="106.7,397.4 110.7,398.9 109.2,402.4" fill="#111"/>
<line x1="161.6" y1="368" x2="215.5" y2="368" stroke="#4aa8a8" stroke-width="1.6" />
<line x1="161.6" y1="405.7" x2="215.5" y2="405.7" stroke="#4fb2c4" stroke-width="1.6" />
<line x1="161.6" y1="420.5" x2="215.5" y2="420.5" stroke="#9c9a62" stroke-width="1.5" />
<line x1="161.6" y1="427.4" x2="215.5" y2="427.4" stroke="#d06074" stroke-width="1.5" />
<line x1="161.6" y1="443.8" x2="215.5" y2="443.8" stroke="#74a8ea" stroke-width="1.6" />
<line x1="161.6" y1="454.4" x2="215.5" y2="454.4" stroke="#b080d0" stroke-width="1.0" />
<line x1="161.6" y1="455.4" x2="215.5" y2="455.4" stroke="#f27c4c" stroke-width="1.4" />
<line x1="161.6" y1="474.2" x2="215.5" y2="474.2" stroke="#6aa0e4" stroke-width="1.5" />
<line x1="161.6" y1="479.8" x2="215.5" y2="479.8" stroke="#3a3a3a" stroke-width="2.0" />
<line x1="161.6" y1="508.2" x2="215.5" y2="508.2" stroke="#a86a6a" stroke-width="1.6" />
<text x="217.4" y="374.1" font-size="8.4" text-anchor="start" font-weight="bold" fill="#e80000" stroke="#e80000" stroke-width="0.18" >P3</text>
<text x="217.4" y="405.8" font-size="8.4" text-anchor="start" font-weight="bold" fill="#111" stroke="#111" stroke-width="0.18" >P5</text>
<text x="217.4" y="412.8" font-size="8.4" text-anchor="start" font-weight="bold" fill="#111" stroke="#111" stroke-width="0.18" >P6</text>
<text x="217.4" y="423.6" font-size="8.4" text-anchor="start" font-weight="bold" fill="#111" stroke="#111" stroke-width="0.18" >P8</text>
<text x="217.4" y="430.3" font-size="8.4" text-anchor="start" font-weight="bold" fill="#111" stroke="#111" stroke-width="0.18" >P1</text>
<text x="217.4" y="447.1" font-size="8.4" text-anchor="start" font-weight="bold" fill="#111" stroke="#111" stroke-width="0.18" >P2</text>
<text x="217.4" y="454.1" font-size="8.4" text-anchor="start" font-weight="bold" fill="#111" stroke="#111" stroke-width="0.18" >P4</text>
<text x="217.4" y="461.5" font-size="8.4" text-anchor="start" font-weight="bold" fill="#111" stroke="#111" stroke-width="0.18" >P9</text>
<text x="214.3" y="476.3" font-size="8.4" text-anchor="start" font-weight="bold" fill="#111" stroke="#111" stroke-width="0.18" >P10</text>
<text x="214.3" y="484.1" font-size="8.4" text-anchor="start" font-weight="bold" fill="#111" stroke="#111" stroke-width="0.18" >P11</text>
<text x="218" y="510" font-size="8.4" text-anchor="start" font-weight="bold" fill="#111" stroke="#111" stroke-width="0.18" >P7</text>
<rect x="41.5" y="366.5" width="186.3" height="148.6" fill="none" stroke="#222" stroke-width="1.4" />
<text transform="translate(10.5,447.8) rotate(-90)" x="0" y="2.82" font-size="8.55" text-anchor="middle" font-weight="bold" fill="#111" stroke="#111" stroke-width="0.18">Fathead minnow LC<tspan font-size="70%" dy="2">50</tspan><tspan dy="-2"> (96 h) (mg/L)</tspan></text>
<text x="1.2" y="374" font-size="18" text-anchor="start" font-weight="normal" fill="#111" >(g)</text>
<rect x="283.8" y="365.6" width="182.9" height="35.8" fill="#c9c9df" stroke="none" stroke-width="0" />
<rect x="283.8" y="401.4" width="182.9" height="36.4" fill="#e6e6f1" stroke="none" stroke-width="0" />
<line x1="283.8" y1="366" x2="286.8" y2="366" stroke="#111" stroke-width="1.0" />
<line x1="283.8" y1="402.1" x2="286.8" y2="402.1" stroke="#111" stroke-width="1.0" />
<line x1="283.8" y1="438.2" x2="286.8" y2="438.2" stroke="#111" stroke-width="1.0" />
<line x1="283.8" y1="474.3" x2="286.8" y2="474.3" stroke="#111" stroke-width="1.0" />
<line x1="283.8" y1="510.4" x2="286.8" y2="510.4" stroke="#111" stroke-width="1.0" />
<text x="280.3" y="369.6" font-size="10.2" text-anchor="end" font-weight="bold" fill="#111" stroke="#111" stroke-width="0.18" >1</text>
<text x="280.3" y="405.7" font-size="10.2" text-anchor="end" font-weight="bold" fill="#111" stroke="#111" stroke-width="0.18" >10</text>
<text x="280.3" y="441.8" font-size="10.2" text-anchor="end" font-weight="bold" fill="#111" stroke="#111" stroke-width="0.18" >100</text>
<text x="280.3" y="477.9" font-size="10.2" text-anchor="end" font-weight="bold" fill="#111" stroke="#111" stroke-width="0.18" >1000</text>
<text x="280.3" y="514" font-size="10.2" text-anchor="end" font-weight="bold" fill="#111" stroke="#111" stroke-width="0.18" >10000</text>
<text x="285" y="399.8" font-size="10.2" text-anchor="start" font-weight="bold" fill="#111" stroke="#111" stroke-width="0.18" >Toxic</text>
<text x="285" y="435.2" font-size="10.2" text-anchor="start" font-weight="bold" fill="#111" stroke="#111" stroke-width="0.18" >Harmful</text>
<text x="285" y="471.6" font-size="10.2" text-anchor="start" font-weight="bold" fill="#111" stroke="#111" stroke-width="0.18" >Not harmful</text>
<line x1="296.4" y1="405.8" x2="350.8" y2="405.8" stroke="#666672" stroke-width="1.2" />
<text x="323.5" y="417.3" font-size="10.8" text-anchor="middle" font-weight="bold" fill="#111" stroke="#111" stroke-width="0.18" >TC</text>
<line x1="350.8" y1="405.8" x2="401" y2="412.8" stroke="#222" stroke-width="1.05" stroke-dasharray="3.6,2.4" stroke-dashoffset="0.0"/>
<line x1="350.8" y1="405.8" x2="401" y2="413.4" stroke="#222" stroke-width="1.05" stroke-dasharray="3.6,2.4" stroke-dashoffset="1.7"/>
<line x1="350.8" y1="405.8" x2="401" y2="416.6" stroke="#222" stroke-width="1.05" stroke-dasharray="3.6,2.4" stroke-dashoffset="3.4"/>
<line x1="350.8" y1="405.8" x2="401" y2="419.6" stroke="#222" stroke-width="1.05" stroke-dasharray="3.6,2.4" stroke-dashoffset="5.1"/>
<line x1="350.8" y1="405.8" x2="401" y2="438.3" stroke="#222" stroke-width="1.05" stroke-dasharray="3.6,2.4" stroke-dashoffset="0.8"/>
<line x1="350.8" y1="405.8" x2="401" y2="476.6" stroke="#222" stroke-width="1.05" stroke-dasharray="3.6,2.4" stroke-dashoffset="2.5"/>
<line x1="350.8" y1="405.8" x2="401" y2="507.6" stroke="#222" stroke-width="1.05" stroke-dasharray="3.6,2.4" stroke-dashoffset="4.2"/>
<line x1="350.8" y1="405.8" x2="401" y2="381.8" stroke="#e8282a" stroke-width="1.2" stroke-dasharray="3.6,2.4"/>
<line x1="350.8" y1="405.8" x2="401" y2="403.8" stroke="#e8282a" stroke-width="1.2" stroke-dasharray="3.6,2.4"/>
<polygon points="349.3,404.3 353.3,405.8 350.8,408.8" fill="#111"/>
<line x1="401" y1="381.8" x2="453.4" y2="381.8" stroke="#b39a78" stroke-width="1.6" />
<line x1="401" y1="403.8" x2="453.4" y2="403.8" stroke="#8aaa68" stroke-width="1.6" />
<line x1="401" y1="412.6" x2="453.4" y2="412.6" stroke="#c4a0d4" stroke-width="1.4" />
<line x1="401" y1="414" x2="453.4" y2="414" stroke="#e08898" stroke-width="1.3" />
<line x1="401" y1="416.8" x2="453.4" y2="416.8" stroke="#6cc6d6" stroke-width="1.6" />
<line x1="401" y1="419.7" x2="453.4" y2="419.7" stroke="#6a98e6" stroke-width="1.4" />
<line x1="401" y1="438.3" x2="453.4" y2="438.3" stroke="#f27e3e" stroke-width="1.8" />
<line x1="401" y1="476.6" x2="453.4" y2="476.6" stroke="#484848" stroke-width="1.9" />
<line x1="401" y1="507.6" x2="453.4" y2="507.6" stroke="#a86a6a" stroke-width="1.6" />
<text x="453.6" y="385.4" font-size="8.4" text-anchor="start" font-weight="bold" fill="#e80000" stroke="#e80000" stroke-width="0.18" >P5</text>
<text x="453.6" y="396.8" font-size="8.4" text-anchor="start" font-weight="bold" fill="#e80000" stroke="#e80000" stroke-width="0.18" >P3</text>
<text x="453.6" y="405" font-size="8.4" text-anchor="start" font-weight="bold" fill="#e80000" stroke="#e80000" stroke-width="0.18" >P8</text>
<text x="453.6" y="410.8" font-size="8.4" text-anchor="start" font-weight="bold" fill="#111" stroke="#111" stroke-width="0.18" >P4</text>
<text x="453.6" y="416.3" font-size="8.4" text-anchor="start" font-weight="bold" fill="#111" stroke="#111" stroke-width="0.18" >P1</text>
<text x="453.6" y="422.1" font-size="8.4" text-anchor="start" font-weight="bold" fill="#111" stroke="#111" stroke-width="0.18" >P10</text>
<text x="453.6" y="428.6" font-size="8.4" text-anchor="start" font-weight="bold" fill="#111" stroke="#111" stroke-width="0.18" >P6</text>
<text x="453.6" y="435.1" font-size="8.4" text-anchor="start" font-weight="bold" fill="#111" stroke="#111" stroke-width="0.18" >P2</text>
<text x="453.6" y="443.1" font-size="8.4" text-anchor="start" font-weight="bold" fill="#111" stroke="#111" stroke-width="0.18" >P9</text>
<text x="453.6" y="480.1" font-size="8.4" text-anchor="start" font-weight="bold" fill="#111" stroke="#111" stroke-width="0.18" >P11</text>
<text x="453.6" y="509.5" font-size="8.4" text-anchor="start" font-weight="bold" fill="#111" stroke="#111" stroke-width="0.18" >P7</text>
<rect x="283.8" y="365.6" width="182.9" height="145.8" fill="none" stroke="#222" stroke-width="1.4" />
<text transform="translate(248.3,444.2) rotate(-90)" x="0" y="2.77" font-size="8.4" text-anchor="middle" font-weight="bold" fill="#111" stroke="#111" stroke-width="0.18">Daphnia magna&#160; LC<tspan font-size="70%" dy="2">50</tspan><tspan dy="-2"> (48 h) (mg/L)</tspan></text>
<text x="242" y="375" font-size="18" text-anchor="start" font-weight="normal" fill="#111" >(h)</text>
<rect x="514.7" y="366.4" width="181.4" height="71.4" fill="#c9c9df" stroke="none" stroke-width="0" />
<line x1="514.7" y1="510" x2="517.7" y2="510" stroke="#111" stroke-width="1.0" />
<line x1="514.7" y1="481.4" x2="517.7" y2="481.4" stroke="#111" stroke-width="1.0" />
<line x1="514.7" y1="452.8" x2="517.7" y2="452.8" stroke="#111" stroke-width="1.0" />
<line x1="514.7" y1="424.2" x2="517.7" y2="424.2" stroke="#111" stroke-width="1.0" />
<line x1="514.7" y1="395.6" x2="517.7" y2="395.6" stroke="#111" stroke-width="1.0" />
<line x1="514.7" y1="367" x2="517.7" y2="367" stroke="#111" stroke-width="1.0" />
<text x="511" y="513.6" font-size="10.2" text-anchor="end" font-weight="bold" fill="#111" stroke="#111" stroke-width="0.18" >0.0</text>
<text x="511" y="485" font-size="10.2" text-anchor="end" font-weight="bold" fill="#111" stroke="#111" stroke-width="0.18" >0.2</text>
<text x="511" y="456.4" font-size="10.2" text-anchor="end" font-weight="bold" fill="#111" stroke="#111" stroke-width="0.18" >0.4</text>
<text x="511" y="427.8" font-size="10.2" text-anchor="end" font-weight="bold" fill="#111" stroke="#111" stroke-width="0.18" >0.6</text>
<text x="511" y="399.2" font-size="10.2" text-anchor="end" font-weight="bold" fill="#111" stroke="#111" stroke-width="0.18" >0.8</text>
<text x="511" y="370.6" font-size="10.2" text-anchor="end" font-weight="bold" fill="#111" stroke="#111" stroke-width="0.18" >1.0</text>
<text x="517.2" y="378" font-size="9.3" text-anchor="start" font-weight="bold" fill="#111" stroke="#111" stroke-width="0.18" >Mutagenicity Positive</text>
<text x="517.2" y="505.2" font-size="9.3" text-anchor="start" font-weight="bold" fill="#111" stroke="#111" stroke-width="0.18" >Mutagenicity Negative</text>
<line x1="527.7" y1="429.6" x2="581.7" y2="429.6" stroke="#555566" stroke-width="1.3" />
<text x="552.2" y="427.7" font-size="10.8" text-anchor="middle" font-weight="bold" fill="#111" stroke="#111" stroke-width="0.18" >TC</text>
<line x1="581.7" y1="429.6" x2="631.1" y2="395.3" stroke="#e8282a" stroke-width="1.2" stroke-dasharray="3.6,2.4"/>
<line x1="581.7" y1="429.6" x2="631.1" y2="410.5" stroke="#e8282a" stroke-width="1.2" stroke-dasharray="3.6,2.4"/>
<line x1="581.7" y1="429.6" x2="631.1" y2="412.3" stroke="#e8282a" stroke-width="1.2" stroke-dasharray="3.6,2.4"/>
<line x1="581.7" y1="429.6" x2="631.1" y2="429.5" stroke="#e8282a" stroke-width="1.2" stroke-dasharray="3.6,2.4"/>
<line x1="581.7" y1="429.6" x2="631.1" y2="454.2" stroke="#222" stroke-width="1.05" stroke-dasharray="3.6,2.4" stroke-dashoffset="0.0"/>
<line x1="581.7" y1="429.6" x2="631.1" y2="466.6" stroke="#222" stroke-width="1.05" stroke-dasharray="3.6,2.4" stroke-dashoffset="1.7"/>
<line x1="581.7" y1="429.6" x2="631.1" y2="491.6" stroke="#222" stroke-width="1.05" stroke-dasharray="3.6,2.4" stroke-dashoffset="3.4"/>
<line x1="581.7" y1="429.6" x2="631.1" y2="498.6" stroke="#222" stroke-width="1.05" stroke-dasharray="3.6,2.4" stroke-dashoffset="5.1"/>
<polygon points="580.2,428.1 584.2,429.6 581.7,432.6" fill="#111"/>
<line x1="631.1" y1="395.3" x2="682.8" y2="395.3" stroke="#52a6a4" stroke-width="1.6" />
<line x1="631.1" y1="410.5" x2="682.8" y2="410.5" stroke="#a48ad4" stroke-width="1.6" />
<line x1="631.1" y1="412.3" x2="682.8" y2="412.3" stroke="#56b8ca" stroke-width="1.5" />
<line x1="631.1" y1="429.5" x2="682.8" y2="429.5" stroke="#908050" stroke-width="1.7" />
<line x1="631.1" y1="454.2" x2="682.8" y2="454.2" stroke="#f57634" stroke-width="1.7" />
<line x1="631.1" y1="466.6" x2="682.8" y2="466.6" stroke="#a87a7a" stroke-width="1.7" />
<line x1="631.1" y1="491.6" x2="682.8" y2="491.6" stroke="#111111" stroke-width="1.8" />
<line x1="631.1" y1="498.6" x2="682.8" y2="498.6" stroke="#6a9ee2" stroke-width="1.5" />
<text x="683" y="391.9" font-size="8.4" text-anchor="start" font-weight="bold" fill="#e80000" stroke="#e80000" stroke-width="0.18" >P2</text>
<text x="683" y="398.6" font-size="8.4" text-anchor="start" font-weight="bold" fill="#e80000" stroke="#e80000" stroke-width="0.18" >P3</text>
<text x="683" y="412.4" font-size="8.4" text-anchor="start" font-weight="bold" fill="#e80000" stroke="#e80000" stroke-width="0.18" >P4</text>
<text x="683" y="418" font-size="8.4" text-anchor="start" font-weight="bold" fill="#e80000" stroke="#e80000" stroke-width="0.18" >P6</text>
<text x="683" y="426.8" font-size="8.4" text-anchor="start" font-weight="bold" fill="#e80000" stroke="#e80000" stroke-width="0.18" >P1</text>
<text x="683" y="433" font-size="8.4" text-anchor="start" font-weight="bold" fill="#e80000" stroke="#e80000" stroke-width="0.18" >P5</text>
<text x="683" y="438.1" font-size="8.4" text-anchor="start" font-weight="bold" fill="#e80000" stroke="#e80000" stroke-width="0.18" >P8</text>
<text x="683" y="458" font-size="8.4" text-anchor="start" font-weight="bold" fill="#111" stroke="#111" stroke-width="0.18" >P9</text>
<text x="683" y="471.1" font-size="8.4" text-anchor="start" font-weight="bold" fill="#111" stroke="#111" stroke-width="0.18" >P7</text>
<text x="683" y="495.2" font-size="8.4" text-anchor="start" font-weight="bold" fill="#111" stroke="#111" stroke-width="0.18" >P11</text>
<text x="683" y="502.6" font-size="8.4" text-anchor="start" font-weight="bold" fill="#111" stroke="#111" stroke-width="0.18" >P10</text>
<rect x="514.7" y="366.4" width="181.4" height="143.6" fill="none" stroke="#222" stroke-width="1.4" />
<text transform="translate(489,431) rotate(-90)" x="0" y="2.71" font-size="8.2" text-anchor="middle" font-weight="bold" fill="#111" stroke="#111" stroke-width="0.18">Mutagenicity</text>
<text x="476.5" y="375" font-size="17.5" text-anchor="start" font-weight="normal" fill="#111" >(i)</text>
</svg></body></html>
